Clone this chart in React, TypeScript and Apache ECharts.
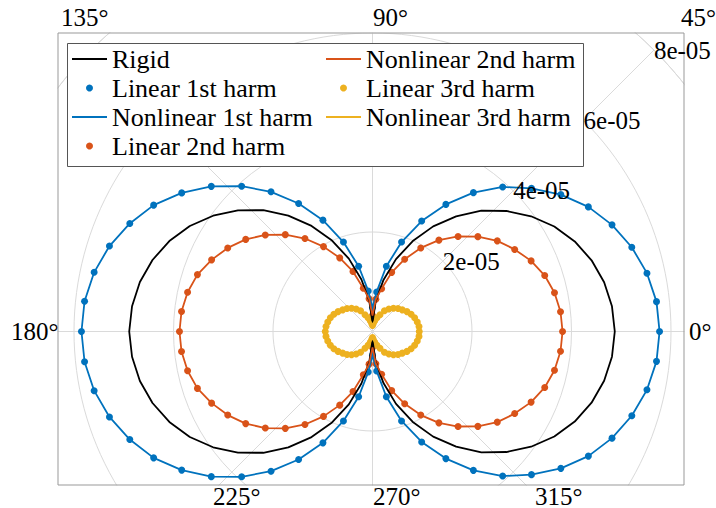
import { useEffect, useRef } from 'react';
import * as echarts from 'echarts';

// Sample angles (degrees) of every curve
const angles = [
  0, 6, 12, 18, 24, 30, 36, 42, 48, 54, 60, 66, 72, 78, 84, 90,
  96, 102, 108, 114, 120, 126, 132, 138, 144, 150, 156, 162, 168, 174, 180,
  186, 192, 198, 204, 210, 216, 222, 228, 234, 240, 246, 252, 258, 264, 270,
  276, 282, 288, 294, 300, 306, 312, 318, 324, 330, 336, 342, 348, 354,
];

// Pressure amplitudes, in units of 1e-05
const rigid = [
  4.87, 4.84, 4.76, 4.63, 4.45, 4.22, 3.94, 3.62, 3.27, 2.86, 2.44, 1.99, 1.53, 1.06, 0.6, 0.18,
  0.61, 1.07, 1.54, 2.0, 2.45, 2.88, 3.28, 3.64, 3.96, 4.24, 4.47, 4.65, 4.78, 4.86, 4.89,
  4.86, 4.78, 4.65, 4.47, 4.24, 3.96, 3.64, 3.28, 2.88, 2.45, 2.0, 1.54, 1.07, 0.61, 0.18,
  0.6, 1.06, 1.53, 1.99, 2.44, 2.86, 3.27, 3.62, 3.94, 4.22, 4.45, 4.63, 4.76, 4.84,
];
const harm1 = [
  5.77, 5.74, 5.64, 5.48, 5.27, 5.01, 4.68, 4.3, 3.91, 3.45, 2.95, 2.43, 1.89, 1.34, 0.8, 0.48,
  0.82, 1.34, 1.89, 2.45, 2.97, 3.47, 3.93, 4.36, 4.74, 5.08, 5.34, 5.56, 5.72, 5.82, 5.85,
  5.82, 5.72, 5.56, 5.34, 5.08, 4.74, 4.36, 3.93, 3.47, 2.97, 2.45, 1.89, 1.34, 0.82, 0.48,
  0.8, 1.34, 1.89, 2.43, 2.95, 3.45, 3.91, 4.3, 4.68, 5.01, 5.27, 5.48, 5.64, 5.74,
];
const harm2 = [
  3.82, 3.8, 3.74, 3.64, 3.49, 3.3, 3.1, 2.85, 2.57, 2.27, 1.94, 1.59, 1.25, 0.88, 0.65, 0.32,
  0.66, 0.89, 1.27, 1.62, 1.97, 2.31, 2.62, 2.9, 3.15, 3.36, 3.54, 3.7, 3.8, 3.86, 3.88,
  3.86, 3.8, 3.7, 3.54, 3.36, 3.15, 2.9, 2.62, 2.31, 1.97, 1.62, 1.27, 0.89, 0.66, 0.32,
  0.65, 0.88, 1.25, 1.59, 1.94, 2.27, 2.57, 2.85, 3.1, 3.3, 3.49, 3.64, 3.74, 3.8,
];
const harm3 = [
  0.94, 0.94, 0.92, 0.89, 0.85, 0.8, 0.74, 0.69, 0.63, 0.56, 0.48, 0.37, 0.29, 0.22, 0.16, 0.12,
  0.16, 0.22, 0.29, 0.37, 0.48, 0.56, 0.63, 0.69, 0.74, 0.8, 0.85, 0.89, 0.92, 0.94, 0.95,
  0.94, 0.92, 0.89, 0.85, 0.8, 0.74, 0.69, 0.63, 0.56, 0.48, 0.37, 0.29, 0.22, 0.16, 0.12,
  0.16, 0.22, 0.29, 0.37, 0.48, 0.56, 0.63, 0.69, 0.74, 0.8, 0.85, 0.89, 0.92, 0.94,
];
const UNIT = 1e-5;

const radiusTicks = [2e-5, 4e-5, 6e-5, 8e-5];
const radiusTickLabels = ['2e-05', '4e-05', '6e-05', '8e-05'];
const angleTickLabels = ['0°', '45°', '90°', '135°', '180°', '225°', '270°', '315°'];
const names = [
  'Rigid',
  'Linear 1st harm',
  'Nonlinear 1st harm',
  'Linear 2nd harm',
  'Nonlinear 2nd harm',
  'Linear 3rd harm',
  'Nonlinear 3rd harm',
];

// Layout
const CX = 372.5;
const CY = 331.5;
const R_PX = 398;
const R_MAX = 8e-5;
const FRAME = { left: 58, top: 33, right: 684, bottom: 485 };
const W = 716;
const H = 508;
const angleLabelPos = [
  [689, 331], [681, 17], [373, 17], [61, 17],
  [11, 331], [213, 496], [373, 496], [535, 496],
];
const FONT_FAMILY = "'Liberation Serif', serif";
const FONT_SIZE = 25;
const LEGEND_FONT_SIZE = 26;

const BLUE = '#0072BD';
const ORANGE = '#D95319';
const YELLOW = '#EDB120';
const BLACK = '#000000';

// thin bar used as the legend glyph of line-only series
const LINE_ICON = 'path://M0,0H35V1.8H0Z';

function toPolar(values: number[], closed: boolean) {
  const pts = values.map((v, i) => [v * UNIT, angles[i]]);
  if (closed) pts.push([values[0] * UNIT, 360]);
  return pts;
}

function lineSeries(name: string, values: number[], color: string) {
  return {
    name,
    type: 'line',
    coordinateSystem: 'polar',
    data: toPolar(values, true),
    symbol: 'none',
    color,
    itemStyle: { color },
    lineStyle: { color, width: 1.8 },
  };
}

function dotSeries(name: string, values: number[], color: string) {
  return {
    name,
    type: 'scatter',
    coordinateSystem: 'polar',
    data: toPolar(values, false),
    symbol: 'circle',
    symbolSize: 7,
    color,
    itemStyle: { color, opacity: 1 },
  };
}

function textEl(text: string, x: number, y: number) {
  return {
    type: 'text',
    z: 30,
    silent: true,
    style: {
      text,
      x,
      y,
      fill: '#000',
      fontFamily: FONT_FAMILY,
      fontSize: FONT_SIZE,
      align: 'left',
      verticalAlign: 'middle',
      textAlign: 'left',
      textVerticalAlign: 'middle',
    },
  };
}

export default function App() {
  const ref = useRef<HTMLDivElement>(null);

  useEffect(() => {
    if (!ref.current) return;
    const chart = echarts.init(ref.current, null, { renderer: 'svg' });

    const legendBase = {
      orient: 'vertical',
      top: 44.5,
      padding: 0,
      itemGap: 0,
      itemWidth: 35,
      itemHeight: 7,
      selectedMode: false,
      z: 40,
      textStyle: {
        fontFamily: FONT_FAMILY,
        fontSize: LEGEND_FONT_SIZE,
        color: '#000',
        lineHeight: 29,
      },
    };
    const legendItem = (i: number) =>
      names[i].startsWith('Linear') ? { name: names[i], icon: 'circle' } : { name: names[i], icon: LINE_ICON };

    // Radial tick labels sit on the 45° spoke, just outside each circle
    const rLabels = radiusTicks.map((v, i) => {
      const r = (v / R_MAX) * R_PX;
      const a = Math.PI / 4;
      return textEl(radiusTickLabels[i], CX + r * Math.cos(a), CY - r * Math.sin(a));
    });
    const aLabels = angleTickLabels.map((t, i) => textEl(t, angleLabelPos[i][0], angleLabelPos[i][1]));

    const cover = (x: number, y: number, w: number, h: number) => ({
      type: 'rect',
      z: 20,
      silent: true,
      shape: { x, y, width: w, height: h },
      style: { fill: '#ffffff' },
    });

    chart.setOption({
      animation: false,
      polar: { center: [CX, CY], radius: R_PX },
      angleAxis: {
        type: 'value',
        min: 0,
        max: 360,
        interval: 45,
        startAngle: 0,
        clockwise: false,
        axisLine: { show: true, lineStyle: { color: '#dadada', width: 1 } },
        axisTick: { show: false },
        axisLabel: { show: false },
        splitLine: { show: true, lineStyle: { color: '#dadada', width: 1 } },
      },
      radiusAxis: {
        type: 'value',
        min: 0,
        max: R_MAX,
        interval: 2e-5,
        axisLine: { show: false },
        axisTick: { show: false },
        axisLabel: { show: false },
        splitLine: { show: true, lineStyle: { color: '#dadada', width: 1 } },
      },
      legend: [
        { ...legendBase, left: 72, data: [0, 1, 2, 3].map(legendItem) },
        { ...legendBase, left: 326, data: [4, 5, 6].map(legendItem) },
      ],
      series: [
        lineSeries(names[0], rigid, BLACK),
        dotSeries(names[1], harm1, BLUE),
        lineSeries(names[2], harm1, BLUE),
        dotSeries(names[3], harm2, ORANGE),
        lineSeries(names[4], harm2, ORANGE),
        dotSeries(names[5], harm3, YELLOW),
        lineSeries(names[6], harm3, YELLOW),
      ],
      graphic: {
        elements: [
          // legend box
          {
            type: 'rect',
            z: 10,
            silent: true,
            shape: { x: 67.5, y: 43.5, width: 516, height: 123 },
            style: { fill: '#ffffff', stroke: '#555555', lineWidth: 1 },
          },
          // clip the polar grid to the plot box
          cover(0, 0, W, FRAME.top - 0.5),
          cover(0, FRAME.bottom + 0.5, W, H - FRAME.bottom),
          cover(0, 0, FRAME.left - 0.5, H),
          cover(FRAME.right + 0.5, 0, W - FRAME.right, H),
          {
            type: 'rect',
            z: 25,
            silent: true,
            shape: {
              x: FRAME.left,
              y: FRAME.top,
              width: FRAME.right - FRAME.left,
              height: FRAME.bottom - FRAME.top,
            },
            style: { fill: 'none', stroke: '#999999', lineWidth: 1 },
          },
          ...rLabels,
          ...aLabels,
        ],
      },
    });

    return () => chart.dispose();
  }, []);

  return (
    <div
      ref={ref}
      style={{ position: 'fixed', left: 0, top: 0, width: W, height: H, background: '#fff' }}
    />
  );
}
